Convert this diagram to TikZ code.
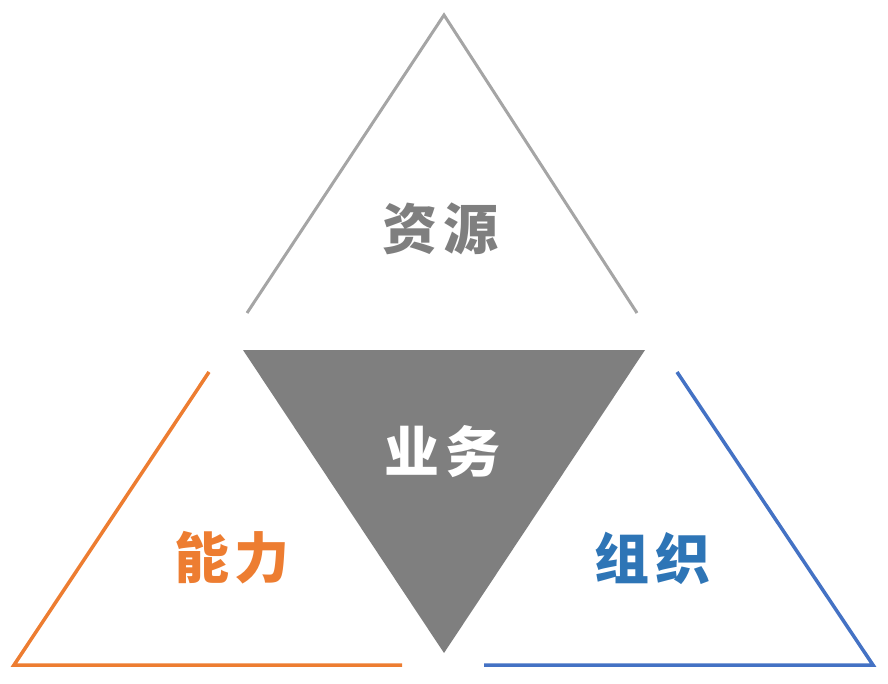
\documentclass[tikz,border=0pt]{standalone}
\usepackage{fontspec}
\newfontfamily\cjk{Noto Sans CJK SC}
\definecolor{lgray}{HTML}{A5A5A5}
\definecolor{dgray}{HTML}{7F7F7F}
\definecolor{orng}{HTML}{ED7D31}
\definecolor{blu}{HTML}{4472C4}
\definecolor{blutxt}{HTML}{2E75B6}
\begin{document}
\begin{tikzpicture}[x=1pt,y=-1pt,
  lbl/.style={font=\cjk\bfseries\fontsize{55}{55}\selectfont, inner sep=0pt}]
\useasboundingbox (0,0) rectangle (888,684);
% top gray triangle (open bottom)
\coordinate (ta) at (444,15);
\coordinate (tl) at (247,313);
\coordinate (tr) at (637,313);
\draw[lgray, line width=3pt] (tl) -- (ta) -- (tr);
% center filled triangle
\coordinate (cl) at (243,350);
\coordinate (cr) at (645,350);
\coordinate (cb) at (444,653);
\fill[dgray] (cl) -- (cr) -- (cb) -- cycle;
% left orange
\coordinate (la) at (209,372);
\coordinate (ll) at (14,665);
\coordinate (lr) at (402,665);
\draw[orng, line width=3.5pt] (la) -- (ll) -- (lr);
% right blue
\coordinate (ra) at (677,372);
\coordinate (rr) at (873,665);
\coordinate (rl) at (484,665);
\draw[blu, line width=3.5pt] (ra) -- (rr) -- (rl);
% labels
\node[lbl, text=dgray] (t1) at (440,229) {资\hspace{6pt}源};
\node[lbl, text=white] (t2) at (442,452) {业\hspace{6pt}务};
\node[lbl, text=orng] (t3) at (232,558) {能\hspace{6pt}力};
\node[lbl, text=blutxt] (t4) at (652,558) {组\hspace{6pt}织};
\end{tikzpicture}
\end{document}
